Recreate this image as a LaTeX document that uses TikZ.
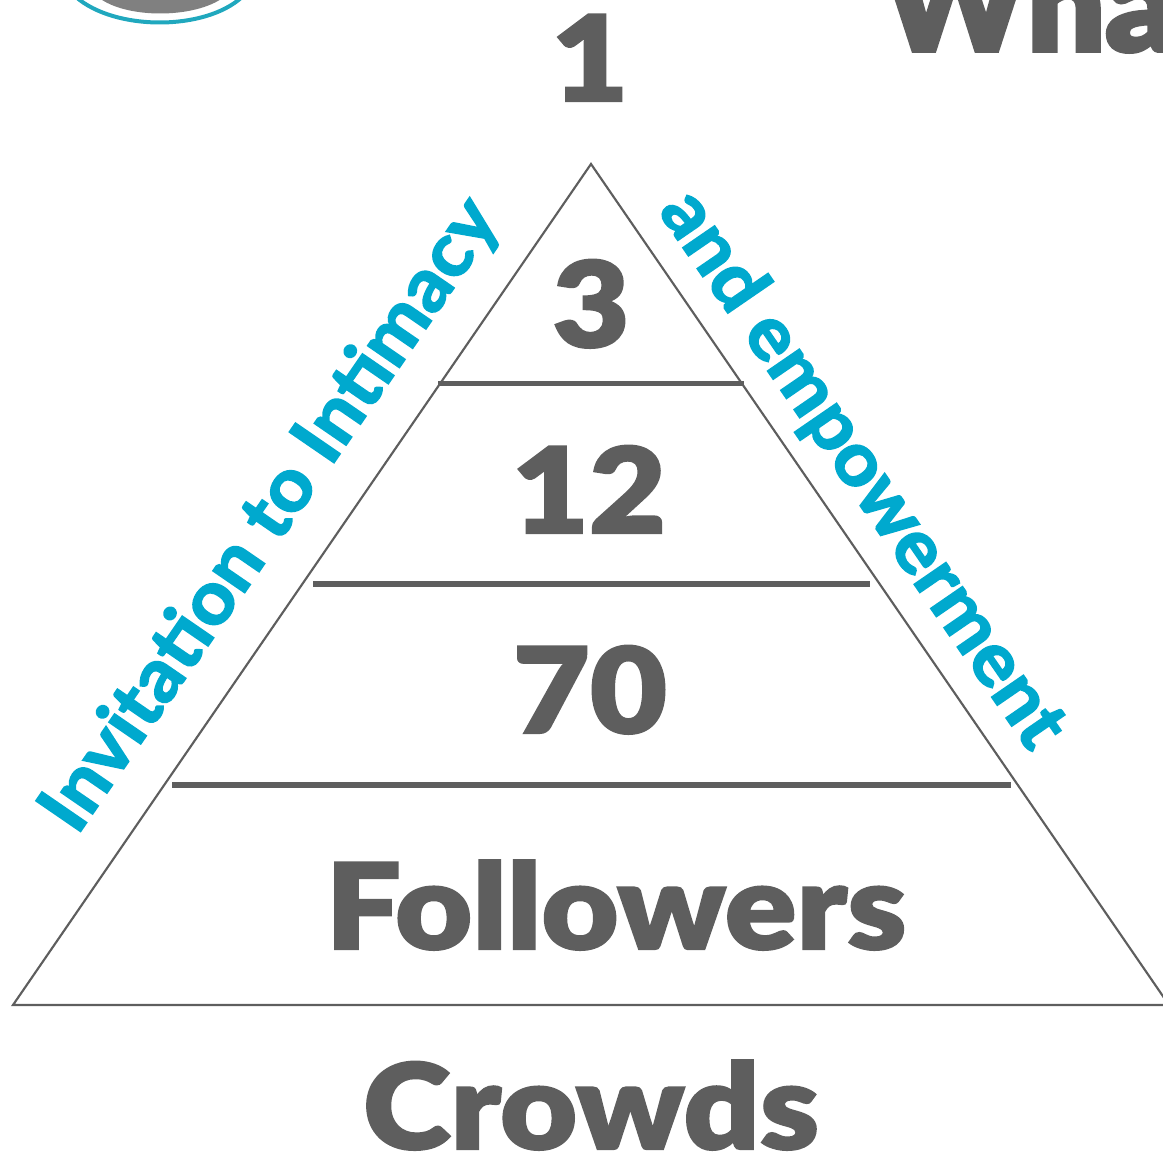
\documentclass[tikz,border=0pt]{standalone}
\usepackage{fontspec}
\newfontfamily\heavyfont{Lato}[BoldFont={Lato Black},FakeStretch=1.12,FakeBold=1.8]
\newfontfamily\sidefont{Lato}[FakeStretch=1.05,FakeBold=2.4]
\newfontfamily\titlefont{Lato}[BoldFont={Lato Black},FakeStretch=1.05,FakeBold=3]
\definecolor{tgray}{HTML}{5E5E5E}
\definecolor{tblue}{HTML}{00A9CE}
\definecolor{lgray}{HTML}{808080}
\definecolor{lteal}{HTML}{20A8BE}
\tikzset{
 big/.style={text=tgray,font=\fontsize{89}{89}\selectfont\heavyfont\bfseries,inner sep=0pt,anchor=base},
 title/.style={text=tgray,font=\fontsize{98}{98}\selectfont\titlefont\bfseries,inner sep=0pt,anchor=base west},
 side/.style={text=tblue,font=\fontsize{56}{56}\selectfont\sidefont\bfseries,inner sep=0pt,anchor=base},
 band/.style={draw=tgray,line width=4pt},
 tri/.style={draw=tgray,line width=1.6pt}
}
\begin{document}
\begin{tikzpicture}[x=0.75pt,y=-0.75pt]
\useasboundingbox (0,0) rectangle (1163,1156);
\begin{scope}
\clip (0,0) rectangle (1163,1156);
\coordinate (apex) at (591,164);
\coordinate (bl) at (13,1005);
\coordinate (br) at (1169,1005);
\draw[tri] (bl) -- (apex) -- (br) -- cycle;
\coordinate (a1) at (438,383.5); \coordinate (a2) at (744,383.5);
\coordinate (b1) at (313,584); \coordinate (b2) at (870,584);
\coordinate (c1) at (172,785); \coordinate (c2) at (1011,785);
\draw[band] (a1) -- (a2);
\draw[band] (b1) -- (b2);
\draw[band] (c1) -- (c2);
\node[big] (n1) at (590,101) {1};
\node[big] (n3) at (591,347) {3};
\node[big] (n12) at (589,533) {12};
\node[big] (n70) at (590,733) {70};
\node[big] (nf) at (616,949) {Followers};
\node[big] (nc) at (591,1149) {Crowds};
\node[side,rotate=55.5] (inv) at (289,528) {Invitation to Intimacy};
\node[side,rotate=-55.5] (emp) at (844,482) {and empowerment};
\fill[lgray] (98,-3) .. controls (125,19) and (195,19) .. (224,-3) -- cycle;
\draw[draw=lteal,line width=3pt] (76,-3) .. controls (115,31) and (205,31) .. (242,-3);
\node[title] (wh) at (882,51) {Wha};
\end{scope}
\end{tikzpicture}
\end{document}
